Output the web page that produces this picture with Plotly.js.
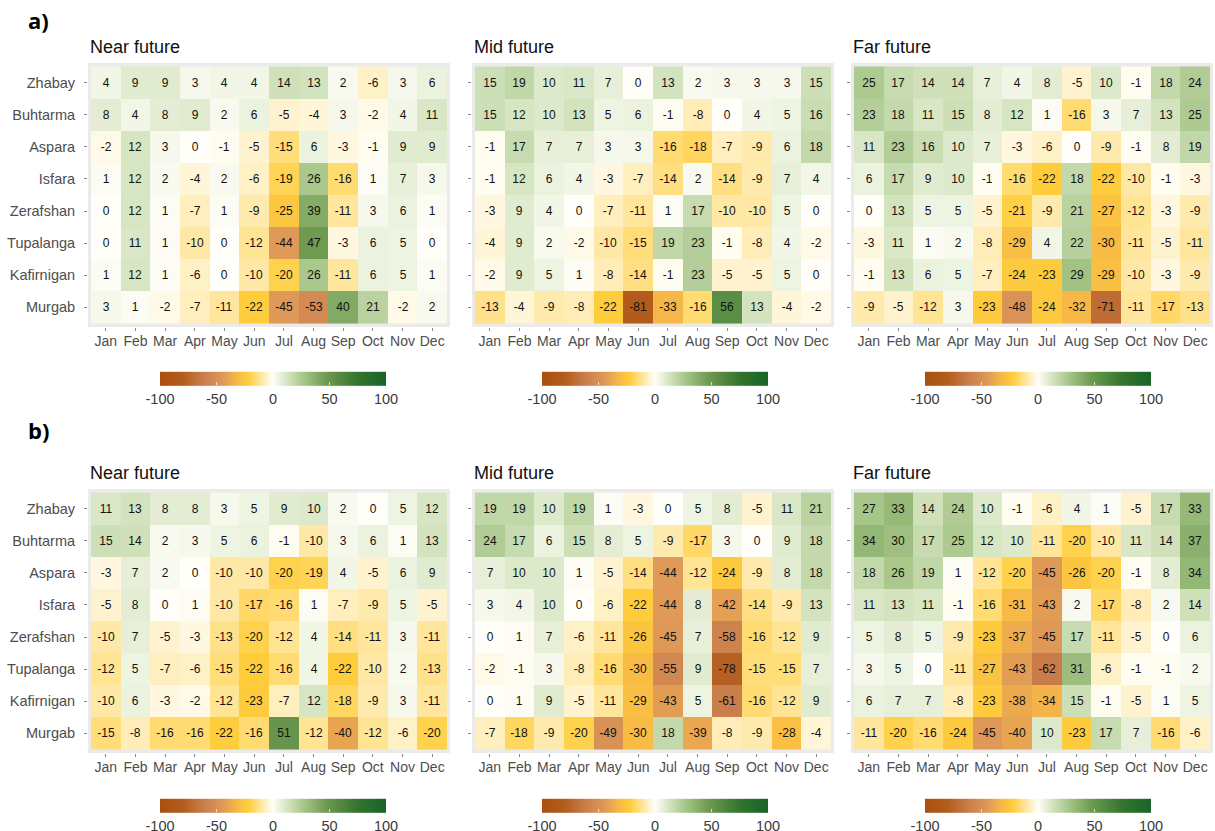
<!DOCTYPE html>
<html>
<head>
<meta charset="utf-8">
<script src="https://cdn.plot.ly/plotly-3.0.1.min.js"></script>
<style>html,body{margin:0;padding:0;background:#fff;}#chart{width:1215px;height:831px;}</style>
</head>
<body>
<div id="chart"></div>
<script>
const months = ['Jan','Feb','Mar','Apr','May','Jun','Jul','Aug','Sep','Oct','Nov','Dec'];
const stations = ['Zhabay','Buhtarma','Aspara','Isfara','Zerafshan','Tupalanga','Kafirnigan','Murgab'];
const colorbarTicks = [-100, -50, 0, 50, 100];

const aNear = [
  [4,9,9,3,4,4,14,13,2,-6,3,6],
  [8,4,8,9,2,6,-5,-4,3,-2,4,11],
  [-2,12,3,0,-1,-5,-15,6,-3,-1,9,9],
  [1,12,2,-4,2,-6,-19,26,-16,1,7,3],
  [0,12,1,-7,1,-9,-25,39,-11,3,6,1],
  [0,11,1,-10,0,-12,-44,47,-3,6,5,0],
  [1,12,1,-6,0,-10,-20,26,-11,6,5,1],
  [3,1,-2,-7,-11,-22,-45,-53,40,21,-2,2]
];
const aMid = [
  [15,19,10,11,7,0,13,2,3,3,3,15],
  [15,12,10,13,5,6,-1,-8,0,4,5,16],
  [-1,17,7,7,3,3,-16,-18,-7,-9,6,18],
  [-1,12,6,4,-3,-7,-14,2,-14,-9,7,4],
  [-3,9,4,0,-7,-11,1,17,-10,-10,5,0],
  [-4,9,2,-2,-10,-15,19,23,-1,-8,4,-2],
  [-2,9,5,1,-8,-14,-1,23,-5,-5,5,0],
  [-13,-4,-9,-8,-22,-81,-33,-16,56,13,-4,-2]
];
const aFar = [
  [25,17,14,14,7,4,8,-5,10,-1,18,24],
  [23,18,11,15,8,12,1,-16,3,7,13,25],
  [11,23,16,10,7,-3,-6,0,-9,-1,8,19],
  [6,17,9,10,-1,-16,-22,18,-22,-10,-1,-3],
  [0,13,5,5,-5,-21,-9,21,-27,-12,-3,-9],
  [-3,11,1,2,-8,-29,4,22,-30,-11,-5,-11],
  [-1,13,6,5,-7,-24,-23,29,-29,-10,-3,-9],
  [-9,-5,-12,3,-23,-48,-24,-32,-71,-11,-17,-13]
];
const bNear = [
  [11,13,8,8,3,5,9,10,2,0,5,12],
  [15,14,2,3,5,6,-1,-10,3,6,1,13],
  [-3,7,2,0,-10,-10,-20,-19,4,-5,6,9],
  [-5,8,0,1,-10,-17,-16,1,-7,-9,5,-5],
  [-10,7,-5,-3,-13,-20,-12,4,-14,-11,3,-11],
  [-12,5,-7,-6,-15,-22,-16,4,-22,-10,2,-13],
  [-10,6,-3,-2,-12,-23,-7,12,-18,-9,3,-11],
  [-15,-8,-16,-16,-22,-16,51,-12,-40,-12,-6,-20]
];
const bMid = [
  [19,19,10,19,1,-3,0,5,8,-5,11,21],
  [24,17,6,15,8,5,-9,-17,3,0,9,18],
  [7,10,10,1,-5,-14,-44,-12,-24,-9,8,18],
  [3,4,10,0,-6,-22,-44,8,-42,-14,-9,13],
  [0,1,7,-6,-11,-26,-45,7,-58,-16,-12,9],
  [-2,-1,3,-8,-16,-30,-55,9,-78,-15,-15,7],
  [0,1,9,-5,-11,-29,-43,5,-61,-16,-12,9],
  [-7,-18,-9,-20,-49,-30,18,-39,-8,-9,-28,-4]
];
const bFar = [
  [27,33,14,24,10,-1,-6,4,1,-5,17,33],
  [34,30,17,25,12,10,-11,-20,-10,11,14,37],
  [18,26,19,1,-12,-20,-45,-26,-20,-1,8,34],
  [11,13,11,-1,-16,-31,-43,2,-17,-8,2,14],
  [5,8,5,-9,-23,-37,-45,17,-11,-5,0,6],
  [3,5,0,-11,-27,-43,-62,31,-6,-1,-1,2],
  [6,7,7,-8,-23,-38,-34,15,-1,-5,1,5],
  [-11,-20,-16,-24,-45,-40,10,-23,17,7,-16,-6]
];
const panelTitles = ['Near future','Mid future','Far future'];
const rowLabels = ['a)','b)'];

const W = 1215, H = 831;
const colorscale = [
  [0.00,'rgb(170,80,12)'],
  [0.10,'rgb(178,92,30)'],
  [0.20,'rgb(203,128,78)'],
  [0.275,'rgb(222,152,88)'],
  [0.335,'rgb(246,182,72)'],
  [0.39,'rgb(255,205,60)'],
  [0.45,'rgb(255,232,165)'],
  [0.50,'rgb(255,254,248)'],
  [0.56,'rgb(214,229,194)'],
  [0.63,'rgb(170,200,140)'],
  [0.735,'rgb(110,155,80)'],
  [0.875,'rgb(52,116,46)'],
  [1.00,'rgb(24,100,40)']
];

const panelX = [[88,450],[472,834],[851,1213]];
const panelY = [[63,327],[489,753]];
const cbCenterX = [273,655,1038];
const cbCenterY = [391,818];
const titleY = [47,473];
const labelY = [20,430];

const fontFam = '"Liberation Sans", Arial, sans-serif';
const data = [];
const layout = {
  width: W, height: H,
  margin: {l:0,r:0,t:0,b:0,autoexpand:false},
  paper_bgcolor: '#ffffff',
  plot_bgcolor: '#ebebeb',
  font: {family: fontFam, color: '#4d4d4d'},
  showlegend: false,
  annotations: []
};
const allZ = [[aNear,aMid,aFar],[bNear,bMid,bFar]];
let k = 0;
for (let r = 0; r < 2; r++) {
  for (let c = 0; c < 3; c++) {
    k++;
    const xa = k === 1 ? 'x' : 'x' + k;
    const ya = k === 1 ? 'y' : 'y' + k;
    const z = allZ[r][c];
    data.push({
      type: 'heatmap',
      z: z, x: months, y: stations,
      text: z.map(row => row.map(v => String(v))),
      xaxis: xa, yaxis: ya,
      zmin: -100, zmax: 100,
      colorscale: colorscale,
      xgap: 0, ygap: 0,
      texttemplate: '%{text}',
      textfont: {size: 12, color: '#111', family: fontFam},
      hoverinfo: 'skip',
      colorbar: {
        orientation: 'h',
        x: cbCenterX[c] / W, xanchor: 'center',
        y: 1 - cbCenterY[r] / H, yanchor: 'middle',
        len: 226, lenmode: 'pixels',
        thickness: 14,
        tickvals: colorbarTicks,
        ticktext: colorbarTicks.map(v => String(v)),
        ticks: 'inside', ticklen: 3, tickcolor: 'rgba(255,255,255,0.7)', tickwidth: 1,
        outlinewidth: 0,
        xpad: 0, ypad: 0,
        tickfont: {size: 14.5, color: '#3a3a3a', family: fontFam}
      }
    });
    const xk = k === 1 ? 'xaxis' : 'xaxis' + k;
    const yk = k === 1 ? 'yaxis' : 'yaxis' + k;
    layout[xk] = {
      domain: [panelX[c][0] / W, panelX[c][1] / W],
      anchor: ya, type: 'category',
      range: [-0.6, 11.6],
      showgrid: false, zeroline: false,
      ticks: 'outside', ticklen: 3, tickcolor: '#888', tickwidth: 1,
      ticklabelstandoff: -2,
      tickfont: {size: 14, color: '#4d4d4d'},
      fixedrange: true
    };
    layout[yk] = {
      domain: [1 - panelY[r][1] / H, 1 - panelY[r][0] / H],
      anchor: xa, type: 'category',
      range: [7.61, -0.61],
      showgrid: false, zeroline: false,
      ticks: 'outside', ticklen: 3, tickcolor: '#888', tickwidth: 1,
      ticklabelstandoff: 6,
      showticklabels: c === 0,
      tickfont: {size: 14.5, color: '#4d4d4d'},
      fixedrange: true
    };
    layout.annotations.push({
      text: panelTitles[c], xref: 'paper', yref: 'paper',
      x: panelX[c][0] / W, y: 1 - titleY[r] / H,
      xanchor: 'left', yanchor: 'middle', showarrow: false,
      font: {size: 18, color: '#111'}
    });
  }
  layout.annotations.push({
    text: '<b>' + rowLabels[r] + '</b>', xref: 'paper', yref: 'paper',
    x: 26 / W, y: 1 - labelY[r] / H,
    xanchor: 'left', yanchor: 'middle', showarrow: false,
    font: {size: 22, color: '#000', family: '"Open Sans", "DejaVu Sans", sans-serif'}
  });
}
Plotly.newPlot('chart', data, layout, {displayModeBar: false, staticPlot: true});
</script>
</body>
</html>
